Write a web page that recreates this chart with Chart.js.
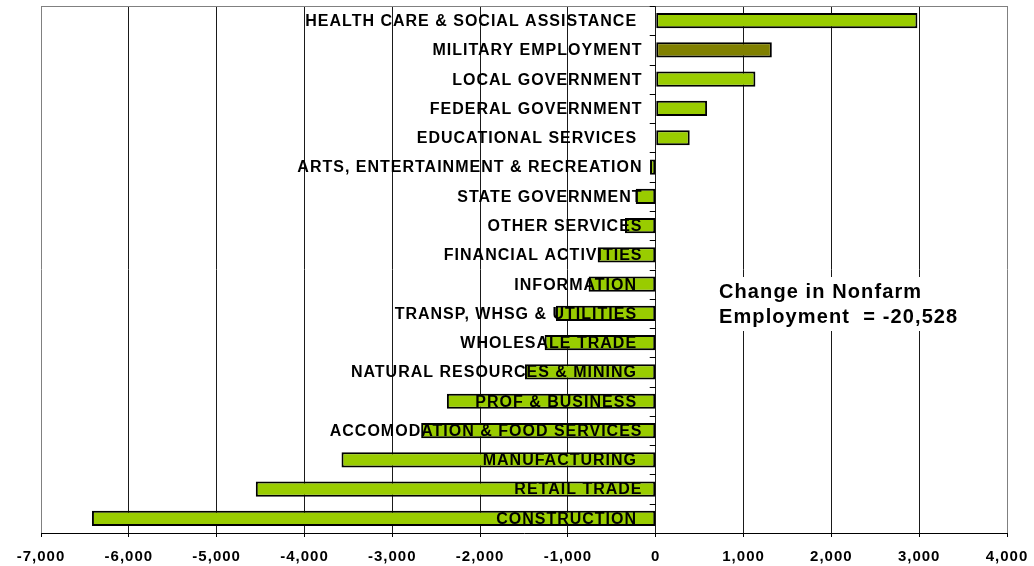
<!DOCTYPE html>
<html>
<head>
<meta charset="utf-8">
<script src="https://cdn.jsdelivr.net/npm/chart.js@4.4.1/dist/chart.umd.min.js"></script>
<style>
  body { margin: 0; background: #fff; }
  #wrap { width: 1034px; height: 566px; position: relative; }
</style>
</head>
<body>
<div id="wrap"><canvas id="chart"></canvas></div>
<script>
// industry labels, trailing space kept where the original had one
let industries = [
  'HEALTH CARE & SOCIAL ASSISTANCE ',
  'MILITARY EMPLOYMENT',
  'LOCAL GOVERNMENT',
  'FEDERAL GOVERNMENT',
  'EDUCATIONAL SERVICES ',
  'ARTS, ENTERTAINMENT & RECREATION',
  'STATE GOVERNMENT',
  'OTHER SERVICES',
  'FINANCIAL ACTIVITIES',
  'INFORMATION ',
  'TRANSP, WHSG & UTILITIES ',
  'WHOLESALE TRADE ',
  'NATURAL RESOURCES & MINING ',
  'PROF & BUSINESS ',
  'ACCOMODATION & FOOD SERVICES',
  'MANUFACTURING ',
  'RETAIL TRADE',
  'CONSTRUCTION '
];
let changes = [2980, 1322, 1135, 585, 387, -65, -228, -350, -661, -764, -1136, -1265, -1489, -2378, -2671, -3578, -4554, -6420];
let barColors = industries.map(name => name.startsWith('MILITARY') ? '#808000' : '#99CC00');
let xMin = -7000, xMax = 4000, xStep = 1000;
let noteLines = ['Change in Nonfarm', 'Employment  = -20,528'];

const FONT = "'Liberation Sans', Arial, sans-serif";

const extras = {
  id: 'extras',
  beforeDraw(chart) {
    chart.ctx.letterSpacing = '1px'; // wider spacing on the tick labels
  },
  afterDatasetsDraw(chart) {
    const ctx = chart.ctx;
    const area = chart.chartArea;
    const x0 = chart.scales.x.getPixelForValue(0);
    const y = chart.scales.y;
    ctx.save();
    // gray top border of the plot
    ctx.strokeStyle = '#808080';
    ctx.lineWidth = 1;
    ctx.beginPath();
    ctx.moveTo(area.left, area.top + 0.5);
    ctx.lineTo(area.right, area.top + 0.5);
    ctx.stroke();
    // small ticks on the zero line between categories
    let step = (area.bottom - area.top) / industries.length;
    ctx.strokeStyle = '#000';
    ctx.beginPath();
    for (let i = 0; i <= industries.length; i++) {
      let ty = Math.round(area.top + i * step) + 0.5;
      ctx.moveTo(x0 - 6, ty);
      ctx.lineTo(x0, ty);
    }
    ctx.stroke();
    // category names next to the zero line
    ctx.fillStyle = '#000';
    ctx.font = 'bold 16px ' + FONT;
    ctx.letterSpacing = '1px';
    ctx.textAlign = 'right';
    ctx.textBaseline = 'middle';
    industries.forEach((name, i) => {
      ctx.fillText(name, 642.5, y.getPixelForValue(i) + 1);
    });
    // the total change note
    ctx.fillStyle = '#fff';
    ctx.fillRect(714, 277, 222, 54);
    ctx.fillStyle = '#000';
    ctx.font = 'bold 20px ' + FONT;
    ctx.letterSpacing = '1.1px';
    ctx.textAlign = 'left';
    ctx.textBaseline = 'alphabetic';
    ctx.fillText(noteLines[0], 719, 298);
    ctx.fillText(noteLines[1], 719, 323);
    ctx.restore();
  }
};

new Chart(document.getElementById('chart'), {
  type: 'bar',
  data: {
    labels: industries,
    datasets: [{
      data: changes,
      backgroundColor: barColors,
      borderColor: '#000',
      borderWidth: 2,
      borderSkipped: false,
      barPercentage: 0.52,
      categoryPercentage: 1
    }]
  },
  options: {
    indexAxis: 'y',
    responsive: true,
    maintainAspectRatio: false,
    animation: false,
    layout: { padding: { left: 41, right: 27, top: 6, bottom: 0 } },
    plugins: {
      legend: { display: false },
      tooltip: { enabled: false }
    },
    scales: {
      x: {
        min: xMin,
        max: xMax,
        afterFit(scale) {
          scale.height = 33;
          scale.paddingLeft = 0;
          scale.paddingRight = 0;
        },
        ticks: {
          stepSize: xStep,
          color: '#000',
          padding: 11,
          font: { family: FONT, size: 15, weight: 'bold' },
          callback: v => v.toLocaleString('en-US')
        },
        grid: {
          color: c => (c.index === 0 || c.tick && c.tick.value === xMax) ? '#808080' : '#1a1a1a',
          tickColor: '#000',
          tickLength: 4,
          lineWidth: 1
        },
        border: { color: '#000', width: 1 }
      },
      y: {
        display: false
      }
    }
  },
  plugins: [extras]
});
</script>
</body>
</html>
